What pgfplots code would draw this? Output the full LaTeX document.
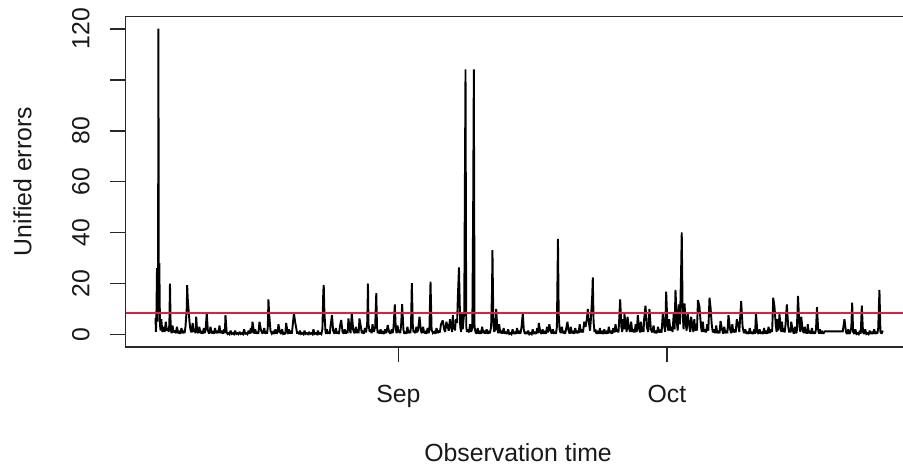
\documentclass[border=0pt]{standalone}
\usepackage{pgfplots}
\pgfplotsset{compat=1.18}
\usepackage{pgfplotstable}
\usepackage{fontspec}
\setmainfont{Liberation Sans}
\definecolor{rline}{RGB}{215,35,65}
\definecolor{axgray}{RGB}{40,40,40}

% x = days relative to 1 September (Oct 1 = 30), y = unified errors
\pgfplotstableread{
x y
-27.15 6.5
-27.10 1
-27.05 7
-26.98 26
-26.93 5
-26.86 28.5
-26.82 120
-26.78 8
-26.72 28
-26.65 4
-26.58 1.5
-26.50 6
-26.38 1
-26.25 3
-26.12 1
-26.00 5
-25.88 1.5
-25.75 2.5
-25.68 1
-25.60 4
-25.53 20
-25.45 2
-25.35 0.5
-25.25 3.5
-25.12 0.8
-25.00 1.5
-24.88 0.5
-24.75 3
-24.62 0.5
-24.50 1
-24.38 0.3
-24.25 2.5
-24.12 0.5
-24.00 1.5
-23.90 0.5
-23.80 3
-23.66 10
-23.61 19.4
-23.55 14.3
-23.46 10
-23.35 5
-23.25 2
-23.12 0.8
-23.00 4.5
-22.88 1
-22.75 2
-22.68 0.5
-22.60 7
-22.50 1.5
-22.38 0.5
-22.25 3
-22.12 0.5
-22.00 1
-21.88 0.3
-21.75 2.5
-21.65 0.5
-21.55 2
-21.42 8.3
-21.30 1.5
-21.15 0.3
-21.00 3
-20.88 0.5
-20.75 1
-20.62 0.3
-20.50 2.5
-20.38 0.5
-20.25 1.5
-20.12 0.5
-20.00 3.5
-19.88 0.5
-19.75 1.5
-19.62 0.3
-19.50 2
-19.40 0.5
-19.33 7.6
-19.20 1
-19.10 0.2
-19.00 0.5
-18.88 0.1
-18.75 1.5
-18.62 0.2
-18.50 0.5
-18.38 0.1
-18.25 1.5
-18.12 0.2
-18.00 0.5
-17.88 0.1
-17.75 1
-17.62 0.2
-17.50 0.5
-17.38 0.1
-17.25 2
-17.12 0.3
-17.00 0.5
-16.88 0.1
-16.75 1.5
-16.62 0.3
-16.50 2.5
-16.40 0.5
-16.31 5
-16.15 1
-16.08 0.3
-16.00 2
-15.88 0.3
-15.75 1
-15.65 0.3
-15.53 5
-15.35 1.5
-15.18 0.3
-15.00 2.5
-14.88 0.3
-14.75 1
-14.68 0.3
-14.60 3
-14.53 13.8
-14.45 8
-14.30 1.5
-14.15 0.3
-14.00 1
-13.88 0.2
-13.75 2
-13.62 0.3
-13.50 1
-13.41 4
-13.25 1
-13.12 0.2
-13.00 2
-12.88 0.2
-12.75 0.5
-12.65 0.1
-12.55 4.5
-12.40 1
-12.32 0.2
-12.25 2
-12.12 0.3
-12.00 1.5
-11.92 0.3
-11.85 2.5
-11.68 8.4
-11.55 5
-11.40 2
-11.32 0.3
-11.25 1
-11.12 0.1
-11.00 1.5
-10.88 0.2
-10.75 0.5
-10.62 0.1
-10.50 1.5
-10.38 0.2
-10.25 0.5
-10.12 0.1
-10.00 1
-9.88 0.2
-9.75 0.5
-9.62 0.1
-9.50 2
-9.38 0.2
-9.25 0.5
-9.12 0.1
-9.00 1.5
-8.88 0.2
-8.75 0.5
-8.62 0.1
-8.50 2
-8.40 17
-8.35 19.4
-8.28 9
-8.15 1
-8.08 0.2
-8.00 2
-7.88 0.3
-7.75 1
-7.68 0.2
-7.60 3
-7.43 7.6
-7.30 1.5
-7.15 0.3
-7.00 2.5
-6.88 0.3
-6.75 1
-6.65 0.2
-6.55 3
-6.40 5.7
-6.25 1
-6.12 0.3
-6.00 2
-5.88 0.3
-5.75 1.5
-5.68 0.5
-5.59 6.3
-5.45 2
-5.35 0.5
-5.22 8.4
-5.05 1.5
-4.90 0.5
-4.75 3
-4.65 0.5
-4.55 2
-4.45 0.5
-4.36 6.3
-4.20 3
-4.10 0.5
-4.00 1
-3.88 0.3
-3.75 2.5
-3.62 0.8
-3.50 4
-3.45 11.8
-3.41 20
-3.35 4
-3.22 1
-3.10 2
-3.00 0.5
-2.90 4
-2.75 1
-2.60 3
-2.55 9
-2.48 16.2
-2.40 3
-2.32 0.5
-2.25 1.5
-2.12 0.3
-2.00 2
-1.88 0.3
-1.75 1
-1.62 0.2
-1.50 2
-1.35 0.5
-1.20 3.7
-1.05 1
-0.90 0.3
-0.75 2
-0.65 0.5
-0.55 3
-0.41 11.8
-0.30 2
-0.20 0.5
-0.10 3.5
0.00 0.8
0.10 1.5
0.20 0.5
0.30 4
0.41 11.9
0.55 2
0.65 0.3
0.75 1
0.88 0.3
1.00 3
1.12 0.5
1.25 1.5
1.32 0.5
1.40 3
1.49 20.1
1.60 4
1.68 0.8
1.75 1.5
1.88 0.5
2.00 3
2.10 0.8
2.20 2
2.35 7
2.50 1.5
2.62 0.5
2.75 3
2.88 0.5
3.00 1
3.12 0.3
3.25 2.5
3.35 0.5
3.45 1.5
3.58 20.7
3.70 2
3.85 0.5
4.00 1
4.12 0.3
4.25 2.5
4.38 0.5
4.50 1.5
4.62 0.8
4.75 4
4.95 5.5
5.10 2
5.22 1
5.35 5
5.50 3
5.62 1.5
5.75 6
5.90 2.5
6.00 1
6.07 7.6
6.15 2
6.25 4
6.32 1.5
6.40 6
6.55 4.5
6.63 14.2
6.76 26.3
6.90 3
7.00 1
7.10 8
7.18 2
7.25 5
7.35 9
7.41 52
7.49 104
7.57 3
7.65 1
7.75 2
7.88 0.8
8.00 4
8.12 1
8.25 2.5
8.35 53
8.42 104
8.50 3
8.60 1
8.72 0.3
8.85 2.5
8.98 0.3
9.10 1
9.22 0.3
9.35 3
9.48 0.5
9.60 1.5
9.72 0.3
9.85 2
9.98 0.3
10.10 1
10.22 0.5
10.35 3
10.45 16.8
10.50 33.1
10.60 5
10.70 1
10.80 2
10.92 10
11.05 2
11.15 0.5
11.25 4
11.38 0.5
11.50 1.5
11.62 0.3
11.75 2.5
11.88 0.3
12.00 1
12.12 0.2
12.25 2
12.38 0.2
12.50 0.5
12.62 0.1
12.75 2
12.88 0.2
13.00 1
13.12 0.2
13.25 2.5
13.38 0.3
13.50 1.5
13.62 0.3
13.75 3
13.89 8.3
14.00 2
14.12 0.2
14.25 1
14.38 0.2
14.50 1.5
14.62 0.1
14.75 0.5
14.88 0.1
15.00 2
15.12 0.2
15.25 1
15.38 0.2
15.50 2.5
15.60 0.5
15.68 4.5
15.85 1
15.98 0.2
16.10 2
16.22 0.3
16.35 1
16.48 0.3
16.60 3
16.72 0.8
16.85 4
17.00 1.5
17.12 0.3
17.25 2
17.38 0.3
17.50 1
17.60 0.3
17.70 3
17.82 37.5
17.90 8
18.00 2
18.12 0.5
18.25 3
18.38 0.5
18.50 1
18.62 0.3
18.75 2.5
18.88 5
19.00 1.5
19.12 0.3
19.25 3
19.38 0.5
19.50 1
19.62 0.3
19.75 2.5
19.88 0.5
20.00 1.5
20.12 0.5
20.25 4
20.38 0.8
20.50 2
20.62 0.8
20.75 5
20.90 3
21.05 6
21.15 10
21.30 4
21.40 1.5
21.50 6
21.65 15.5
21.71 22.4
21.80 5
21.90 1
22.00 2
22.12 0.3
22.25 1
22.38 0.3
22.50 2.5
22.62 0.3
22.75 1
22.88 0.2
23.00 2
23.12 0.3
23.25 1
23.38 0.3
23.50 3
23.62 0.5
23.75 1.5
23.88 0.3
24.00 2.5
24.12 0.8
24.25 4
24.38 1
24.50 2
24.58 0.8
24.65 5
24.77 13.8
24.90 3
25.00 1
25.10 6
25.18 2
25.25 8
25.40 3
25.50 1
25.59 7
25.75 2.5
25.88 1
26.00 5
26.12 1
26.25 2
26.38 0.8
26.50 4
26.62 1
26.74 7.6
26.90 2
27.00 0.8
27.10 5
27.20 1
27.30 3
27.38 1
27.45 6
27.60 11.3
27.75 3
27.90 1
28.04 10
28.20 2
28.35 0.8
28.50 3.5
28.62 0.5
28.75 1.5
28.88 0.5
29.00 3
29.12 0.8
29.25 1.5
29.40 0.8
29.53 8
29.70 3
29.80 1
29.91 16.8
30.05 4
30.15 1.5
30.25 6
30.38 1.5
30.50 3
30.62 1
30.75 8
30.85 2
30.95 17.5
31.10 5
31.20 1.5
31.32 11.8
31.45 4
31.58 25.3
31.65 40.1
31.75 9
31.85 2
31.96 12.2
32.10 4
32.20 1.5
32.32 8
32.50 3
32.60 1
32.70 7
32.85 3
32.95 1
33.05 6
33.15 1.5
33.25 4
33.35 1.5
33.46 13.5
33.63 11
33.80 3
33.90 1
34.00 5
34.12 1
34.25 2
34.38 0.8
34.50 4
34.62 1.5
34.75 14.4
34.86 11
35.00 4
35.12 0.8
35.25 2
35.38 0.5
35.50 3.5
35.62 0.5
35.75 1.5
35.88 0.5
35.98 5.3
36.15 2
36.28 0.3
36.40 3
36.52 0.5
36.65 1.5
36.75 0.5
36.87 7.6
37.05 2
37.18 0.5
37.30 4
37.42 0.8
37.55 2
37.68 0.8
37.80 6
38.00 3
38.08 1
38.15 5
38.29 13.1
38.45 3
38.60 0.5
38.75 2
38.88 0.3
39.00 1
39.12 0.2
39.25 2.5
39.38 0.3
39.50 1
39.62 0.2
39.75 2
39.85 0.3
39.94 8.4
40.10 1
40.22 0.2
40.35 2
40.48 0.3
40.60 1
40.72 0.2
40.85 2.5
40.98 0.3
41.10 1
41.22 0.3
41.35 3
41.48 0.5
41.60 2
41.75 1
41.87 14.4
42.01 11
42.15 4
42.25 1
42.35 6
42.45 1.5
42.57 8
42.70 3
42.78 1
42.85 5
42.95 1
43.05 2.5
43.15 0.8
43.25 4
43.39 11.8
43.55 3
43.65 0.8
43.75 2
43.82 0.8
43.88 5
44.05 1.5
44.18 0.3
44.30 3
44.40 0.5
44.50 1
44.64 15.1
44.80 3
44.90 1
45.00 7
45.15 2
45.28 0.5
45.40 3
45.50 0.5
45.60 1
45.66 0.3
45.73 4
45.85 0.5
45.95 1
46.08 0.3
46.20 2.5
46.32 0.3
46.45 1
46.55 0.3
46.65 2
46.76 10.7
46.90 1.5
47.00 0.3
47.10 2
47.22 0.3
47.35 1
47.48 0.3
47.60 1.2
49.64 1.2
49.83 6
50.00 1
50.12 0.2
50.25 2
50.38 0.2
50.50 1
50.60 3
50.69 12.5
50.80 1
50.92 0.2
51.05 2
51.18 0.2
51.30 0.5
51.42 0.1
51.55 1.5
51.65 0.3
51.77 11.3
51.90 1
52.02 0.2
52.15 2
52.28 0.2
52.40 0.5
52.52 0.1
52.65 1.5
52.78 0.2
52.90 1
53.02 0.2
53.15 2
53.28 0.2
53.40 1
53.50 0.3
53.60 2.5
53.74 17.5
53.85 1
53.98 0.3
54.11 1.5
}\errdata

\pgfplotstableread{
x y
-30.5 8.3
57.4 8.3
}\threshold

\begin{document}
\begin{tikzpicture}
\begin{axis}[
  at={(62.75pt,59.65pt)}, anchor=south west,
  scale only axis,
  width=393.35pt, height=165.1pt,
  xmin=-30.5, xmax=57.4,
  ymin=-4.8, ymax=124.8,
  axis line style={axgray, line width=0.9pt},
  tick style={axgray, line width=0.9pt},
  tick align=outside,
  major tick length=7.75pt,
  xtick pos=bottom, ytick pos=left,
  xtick={0,30}, xticklabels={Sep,Oct},
  ytick={0,20,40,60,80,100,120},
  yticklabels={0,20,40,60,80,,120},
  /pgf/number format/assume math mode=true,
  every tick label/.append style={font=\fontsize{12.4}{14}\selectfont, text=black!90, inner sep=0pt},
  yticklabel style={rotate=90, anchor=south},
  xticklabel style={anchor=north},
  yticklabel shift=10pt,
  xticklabel shift=11.4pt,
  xlabel={Observation time},
  ylabel={Unified errors},
  label style={font=\fontsize{12.4}{14}\selectfont, text=black!90, inner sep=0pt},
  xlabel style={at={(axis description cs:0.499,-0.322)}, anchor=center},
  ylabel style={at={(axis description cs:-0.131,0.5)}, anchor=center, rotate=0},
  clip=true,
]
\addplot[black, line width=0.95pt, line join=miter, miter limit=2] table[x=x, y=y] {\errdata};
\addplot[rline, line width=0.9pt] table[x=x, y=y] {\threshold};
\end{axis}
\pgfresetboundingbox
\path[use as bounding box] (0,0) rectangle (451.5pt,233pt);
\end{tikzpicture}
\end{document}
